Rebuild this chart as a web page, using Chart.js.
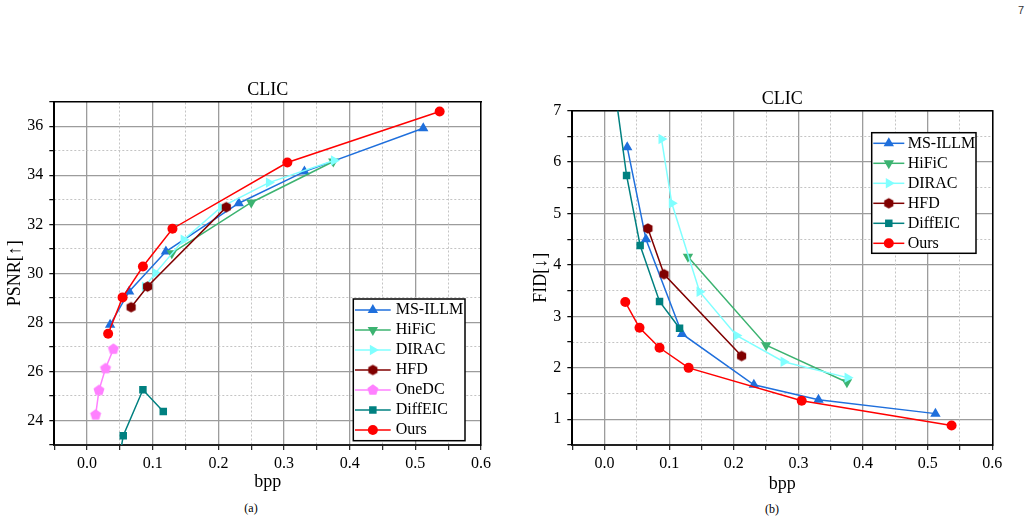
<!DOCTYPE html>
<html>
<head>
<meta charset="utf-8">
<script src="https://cdn.jsdelivr.net/npm/chart.js@4.4.1/dist/chart.umd.min.js"></script>
<style>
  body { margin: 0; width: 1032px; height: 524px; background: #fff; position: relative; overflow: hidden; font-family: 'Liberation Serif', serif; }
  .wrap { position: absolute; }
  .cap { position: absolute; font-size: 12px; color: #000; transform: translateX(-50%); }
</style>
</head>
<body>
<div style="position:absolute;left:1018px;top:4px;font-size:11px;font-family:'Liberation Sans',sans-serif;color:#333">7</div>
<div class="wrap" style="left:0;top:70px"><canvas id="psnr" width="500" height="425"></canvas></div>
<div class="wrap" style="left:510px;top:70px"><canvas id="fid" width="522" height="425"></canvas></div>
<div class="cap" style="left:251px;top:501px">(a)</div>
<div class="cap" style="left:772px;top:502px">(b)</div>

<script>
// bpp of each method (CLIC)
const msIllmBpp = [0.035, 0.064, 0.120, 0.231, 0.331, 0.512];
const hificBpp = [0.129, 0.250, 0.375];
const diracBpp = [0.088, 0.104, 0.147, 0.204, 0.277, 0.376];
const hfdBpp = [0.067, 0.092, 0.212];
const onedcBpp = [0.013, 0.018, 0.028, 0.040];
const diffeicBpp = [0.015, 0.034, 0.055, 0.085, 0.116];
const oursBpp = [0.032, 0.054, 0.085, 0.130, 0.305, 0.537];

// PSNR values (a)
const msIllmPsnr = [27.90, 29.26, 30.89, 32.86, 34.15, 35.92];
const hificPsnr = [30.82, 32.89, 34.56];
const diracPsnr = [29.46, 30.01, 31.37, 32.70, 33.70, 34.60];
const hfdPsnr = [28.62, 29.46, 32.70];
const onedcPsnr = [24.23, 25.23, 26.12, 26.91];
const diffeicPsnr = [17.5, 20.0, 23.38, 25.25, 24.37];
const oursPsnr = [27.54, 29.02, 30.28, 31.82, 34.52, 36.60];

// FID values (b)
const msIllmFid = [6.29, 4.50, 2.66, 1.67, 1.38, 1.11];
const hificFid = [4.16, 2.44, 1.72];
const diracFid = [6.45, 5.20, 3.48, 2.63, 2.12, 1.81];
const hfdFid = [4.71, 3.82, 2.23];
const diffeicFid = [7.5, 5.74, 4.38, 3.29, 2.77];
const oursFid = [3.28, 2.78, 2.39, 2.00, 1.36, 0.88];

const FONT = "'Liberation Serif', 'Times New Roman', serif";
const GRID = '#9c9c9c';
const MINOR = '#c4c4c4';
const CLEAR = 'rgba(0,0,0,0)';

Chart.defaults.font.family = FONT;
Chart.defaults.color = '#000';

// little polygon markers (hexagon / pentagon)
function polyMarker(n, r, color) {
  const c = document.createElement('canvas');
  const s = Math.ceil(2 * r + 2);
  c.width = c.height = s;
  const g = c.getContext('2d');
  g.beginPath();
  for (let k = 0; k < n; k++) {
    const a = k * 2 * Math.PI / n;
    const px = s / 2 + r * Math.sin(a), py = s / 2 - r * Math.cos(a);
    k ? g.lineTo(px, py) : g.moveTo(px, py);
  }
  g.closePath();
  g.fillStyle = color;
  g.fill();
  return c;
}

const styles = {
  'MS-ILLM': {color: '#1f6fdc', pointStyle: 'triangle', pointRotation: 0, pointRadius: 6},
  'HiFiC': {color: '#3cb371', pointStyle: 'triangle', pointRotation: 180, pointRadius: 6},
  'DIRAC': {color: '#80ffff', pointStyle: 'triangle', pointRotation: 90, pointRadius: 6},
  'HFD': {color: '#800000', pointStyle: polyMarker(6, 5.3, '#800000'), pointRotation: 0, pointRadius: 5},
  'OneDC': {color: '#ff80ff', pointStyle: polyMarker(5, 5.8, '#ff80ff'), pointRotation: 0, pointRadius: 5},
  'DiffEIC': {color: '#008080', pointStyle: 'rect', pointRotation: 0, pointRadius: 5.3},
  'Ours': {color: '#ff0000', pointStyle: 'circle', pointRotation: 0, pointRadius: 5}
};

function series(label, bpp, vals, order) {
  const s = styles[label];
  return {
    label: label,
    data: bpp.map((b, i) => ({x: b, y: vals[i]})),
    borderColor: s.color,
    backgroundColor: s.color,
    pointBackgroundColor: s.color,
    pointBorderColor: s.color,
    pointBorderWidth: 0,
    pointStyle: s.pointStyle,
    pointRotation: s.pointRotation,
    pointRadius: s.pointRadius,
    borderWidth: 1.5,
    showLine: true,
    tension: 0,
    order: order
  };
}

function isMajor(v, step) {
  const r = v / step;
  return Math.abs(r - Math.round(r)) < 1e-6;
}

// legend drawn as a framed box inside the plot
const boxLegend = {
  id: 'boxLegend',
  afterDatasetsDraw(chart, args, b) {
    const ctx = chart.ctx;
    ctx.save();
    ctx.fillStyle = '#fff';
    ctx.fillRect(b.x, b.y, b.w, b.h);
    ctx.strokeStyle = '#000';
    ctx.lineWidth = 1.5;
    ctx.strokeRect(b.x, b.y, b.w, b.h);
    chart.data.datasets.forEach((ds, i) => {
      const y = b.y + b.first + i * b.row;
      ctx.strokeStyle = ds.borderColor;
      ctx.fillStyle = ds.borderColor;
      ctx.lineWidth = 1.5;
      ctx.beginPath();
      ctx.moveTo(b.x + b.l0, y);
      ctx.lineTo(b.x + b.l1, y);
      ctx.stroke();
      Chart.helpers.drawPoint(ctx, {pointStyle: ds.pointStyle, rotation: ds.pointRotation, radius: ds.pointRadius, borderWidth: 0},
        b.x + (b.l0 + b.l1) / 2, y);
      ctx.fillStyle = '#000';
      ctx.font = '16px ' + FONT;
      ctx.textBaseline = 'middle';
      ctx.textAlign = 'left';
      ctx.fillText(ds.label, b.x + b.tx, y);
    });
    ctx.restore();
  }
};

function makeChart(id, o) {
  const xMinor = {
    type: 'linear', position: 'top', min: -0.05, max: 0.6,
    ticks: {display: false, stepSize: 0.05},
    grid: {drawTicks: false, lineWidth: 1, color: c => isMajor(c.tick.value, 0.1) ? CLEAR : MINOR},
    border: {display: true, color: '#000', width: 1.5, dash: [2, 2]},
    afterFit: s => { s.height = 0; }
  };
  const yMinor = {
    type: 'linear', position: 'right', min: o.yMin, max: o.yMax,
    ticks: {display: false, stepSize: o.yStep / 2},
    grid: {drawTicks: false, lineWidth: 1, color: c => isMajor(c.tick.value, o.yStep) ? CLEAR : MINOR},
    border: {display: true, color: '#000', width: 1.5, dash: [2, 2]},
    afterFit: s => { s.width = 0; }
  };
  return new Chart(document.getElementById(id), {
    type: 'scatter',
    data: {datasets: o.datasets},
    options: {
      responsive: false,
      animation: false,
      layout: {padding: {left: 0, right: o.padRight, top: 0, bottom: 0}},
      scales: {
        x: {
          type: 'linear', position: 'bottom', min: -0.05, max: 0.6,
          ticks: {
            stepSize: 0.05, autoSkip: false, maxRotation: 0, padding: 4,
            font: {size: 16},
            callback: v => isMajor(v, 0.1) ? v.toFixed(1) : ''
          },
          grid: {
            color: c => isMajor(c.tick.value, 0.1) ? GRID : CLEAR,
            lineWidth: 1.3, tickColor: '#222', tickLength: 5, tickWidth: 1.2
          },
          border: {color: '#222', width: 2},
          title: {display: true, text: 'bpp', font: {size: 18}, padding: {top: 0, bottom: o.xTitlePad}},
          afterFit: s => { s.height = 50; }
        },
        y: {
          type: 'linear', position: 'left', min: o.yMin, max: o.yMax,
          ticks: {
            stepSize: o.yStep / 2, autoSkip: false, padding: 6,
            font: {size: 16},
            callback: v => isMajor(v, o.yStep) ? String(v) : ''
          },
          grid: {
            color: c => isMajor(c.tick.value, o.yStep) ? GRID : CLEAR,
            lineWidth: 1.3, tickColor: '#000', tickLength: 5, tickWidth: 1.2
          },
          border: {color: '#000', width: 2},
          title: {display: true, text: o.yTitle, font: {size: 18}, padding: {top: o.yTitlePad, bottom: 0}},
          afterFit: s => { s.width = o.yWidth; }
        },
        x2: xMinor,
        y2: yMinor
      },
      plugins: {
        legend: {display: false},
        tooltip: {enabled: false},
        title: {
          display: true, text: 'CLIC', fullSize: false,
          font: {size: 18, weight: 'normal'}, color: '#000',
          padding: {top: o.titlePad, bottom: o.totalTop - 21.6 - o.titlePad}
        },
        boxLegend: o.legend
      }
    },
    plugins: [boxLegend]
  });
}

makeChart('psnr', {
  yMin: 23, yMax: 37, yStep: 2, yTitle: 'PSNR[\u2191]',
  yWidth: 54.3, padRight: 19, xTitlePad: 1.5, yTitlePad: 4.8,
  titlePad: 9.2, totalTop: 31.7,
  legend: {x: 353.3, y: 229, w: 111.7, h: 141.7, first: 11, row: 20, l0: 1.7, l1: 37.4, tx: 42.4},
  datasets: [
    series('MS-ILLM', msIllmBpp, msIllmPsnr, 6),
    series('HiFiC', hificBpp, hificPsnr, 5),
    series('DIRAC', diracBpp, diracPsnr, 4),
    series('HFD', hfdBpp, hfdPsnr, 3),
    series('OneDC', onedcBpp, onedcPsnr, 2),
    series('DiffEIC', diffeicBpp, diffeicPsnr, 1),
    series('Ours', oursBpp, oursPsnr, 0)
  ]
});

makeChart('fid', {
  yMin: 0.5, yMax: 7, yStep: 1, yTitle: 'FID[\u2193]',
  yWidth: 62.3, padRight: 39.7, xTitlePad: 0, yTitlePad: 20.9,
  titlePad: 18.5, totalTop: 40.7,
  legend: {x: 361.7, y: 62.7, w: 104.3, h: 120.6, first: 10.6, row: 20, l0: 1.6, l1: 32.6, tx: 36},
  datasets: [
    series('MS-ILLM', msIllmBpp, msIllmFid, 6),
    series('HiFiC', hificBpp, hificFid, 5),
    series('DIRAC', diracBpp, diracFid, 4),
    series('HFD', hfdBpp, hfdFid, 3),
    series('DiffEIC', diffeicBpp, diffeicFid, 1),
    series('Ours', oursBpp, oursFid, 0)
  ]
});
</script>
</body>
</html>
